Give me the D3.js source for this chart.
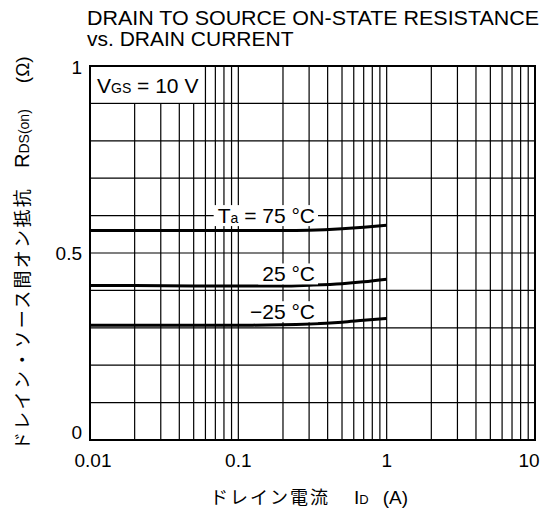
<!DOCTYPE html>
<html>
<head>
<meta charset="utf-8">
<script src="https://cdn.jsdelivr.net/npm/d3@7"></script>
<style>
  body { margin: 0; background: #fff; }
  svg { display: block; font-family: "Liberation Sans", Arial, sans-serif; }
</style>
</head>
<body>
<div id="chart"></div>
<script>
// drain current (A) and on-state resistance (ohm)
const drainCurrent = [0.01, 0.02, 0.05, 0.1, 0.2, 0.3, 0.5, 0.7, 1];
const rTa75 = [0.560, 0.560, 0.560, 0.560, 0.560, 0.561, 0.565, 0.569, 0.574];
const rTa25 = [0.413, 0.413, 0.412, 0.412, 0.412, 0.414, 0.418, 0.423, 0.430];
const rTaM25 = [0.307, 0.307, 0.307, 0.307, 0.308, 0.310, 0.315, 0.320, 0.325];

const seriesLabels = ["75", "25", "−25"];
const labelAt = [0.6, 0.444, 0.343];
const xTickValues = [0.01, 0.1, 1, 10];
const xTickLabels = ["0.01", "0.1", "1", "10"];
const yTickValues = [0, 0.5, 1];
const yTickLabels = ["0", "0.5", "1"];

const W = 549, H = 510;
const m = { left: 90, right: 14, top: 66, bottom: 70 };

const svg = d3.select("#chart").append("svg")
	.attr("width", W)
	.attr("height", H);

const x = d3.scaleLog().domain([0.01, 10]).range([m.left, W - m.right]);
const y = d3.scaleLinear().domain([0, 1]).range([H - m.bottom, m.top]);

// grid: every log minor tick and every 0.1 on y
const vLines = x.ticks().filter((d) => d > 0.01 && d < 10);
const hLines = d3.range(1, 10).map((i) => i / 10);

svg.append("g").selectAll("line").data(vLines).join("line")
	.attr("x1", (d) => x(d)).attr("x2", (d) => x(d))
	.attr("y1", y(0)).attr("y2", y(1))
	.attr("stroke", "#000").attr("stroke-width", 1.2);

svg.append("g").selectAll("line").data(hLines).join("line")
	.attr("x1", x(0.01)).attr("x2", x(10))
	.attr("y1", (d) => y(d)).attr("y2", (d) => y(d))
	.attr("stroke", "#000").attr("stroke-width", 1.2);

// condition box in the top left corner
svg.append("rect")
	.attr("x", x(0.01)).attr("y", y(1))
	.attr("width", x(0.06) - x(0.01)).attr("height", y(0.9) - y(1))
	.attr("fill", "#fff").attr("stroke", "#000").attr("stroke-width", 1.2);

const vgs = svg.append("text")
	.attr("x", x(0.01) + 7).attr("y", y(0.95) + 8)
	.attr("font-size", 21);
vgs.append("tspan").text("V");
vgs.append("tspan").attr("font-size", 14).text("GS");
vgs.append("tspan").text(" = 10 V");

// curves
const line = d3.line()
	.x((d) => x(d[0]))
	.y((d) => y(d[1]))
	.curve(d3.curveMonotoneX);

[rTa75, rTa25, rTaM25].forEach((vals) => {
	svg.append("path")
		.datum(drainCurrent.map((c, i) => [c, vals[i]]))
		.attr("d", line)
		.attr("fill", "none")
		.attr("stroke", "#000")
		.attr("stroke-width", 3);
});

// curve labels, a white box knocks out the grid behind each one
seriesLabels.forEach((t, i) => {
	const lab = svg.append("text")
		.attr("x", 315).attr("y", y(labelAt[i]) + 7.5)
		.attr("text-anchor", "end")
		.attr("font-size", 21)
		.attr("fill", "#000");
	if (i === 0) {
		lab.append("tspan").text("T");
		lab.append("tspan").attr("font-size", 14).text("a");
		lab.append("tspan").text(" = " + t + " °C");
	} else {
		lab.text(t + " °C");
	}
	const bb = lab.node().getBBox();
	svg.insert("rect", () => lab.node())
		.attr("x", bb.x - 4).attr("y", bb.y + 1)
		.attr("width", bb.width + 7).attr("height", bb.height - 2)
		.attr("fill", "#fff");
});

// frame
svg.append("rect")
	.attr("x", x(0.01)).attr("y", y(1))
	.attr("width", x(10) - x(0.01)).attr("height", y(0) - y(1))
	.attr("fill", "none").attr("stroke", "#000").attr("stroke-width", 2);

// tick labels
svg.append("g").selectAll("text").data(xTickValues).join("text")
	.attr("x", (d, i) => x(d) + (i === 0 ? 3 : i === 3 ? -6 : 0))
	.attr("y", y(0) + 27)
	.attr("text-anchor", "middle")
	.attr("font-size", 19)
	.text((d, i) => xTickLabels[i]);

svg.append("g").selectAll("text").data(yTickValues).join("text")
	.attr("x", m.left - 8)
	.attr("y", (d) => y(d) + (d === 1 ? 8 : d === 0 ? -1 : 7))
	.attr("text-anchor", "end")
	.attr("font-size", 19)
	.text((d, i) => yTickLabels[i]);

// title
svg.append("text").attr("x", 87).attr("y", 25)
	.attr("font-size", 21).attr("textLength", 452).attr("lengthAdjust", "spacingAndGlyphs")
	.text("DRAIN TO SOURCE ON-STATE RESISTANCE");
svg.append("text").attr("x", 87).attr("y", 46)
	.attr("font-size", 21)
	.text("vs. DRAIN  CURRENT");

// x axis title
const xt = svg.append("text")
	.attr("x", 210).attr("y", 504)
	.attr("font-size", 19);
xt.append("tspan").attr("font-family", "Noto Sans CJK JP").attr("font-size", 18).attr("letter-spacing", 2).text("ドレイン電流");
xt.append("tspan").attr("dx", 24).text("I");
xt.append("tspan").attr("font-size", 13).text("D");
xt.append("tspan").attr("dx", 14).text("(A)");

// y axis title
const yt = svg.append("text")
	.attr("transform", "translate(29,450) rotate(-90)")
	.attr("font-size", 19);
yt.append("tspan").attr("font-family", "Noto Sans CJK JP").attr("font-size", 18).attr("letter-spacing", 2.3).text("ドレイン・ソース間オン抵抗");
yt.append("tspan").attr("dx", 19).attr("font-size", 20).text("R");
yt.append("tspan").attr("font-size", 14).text("DS(on)");
yt.append("tspan").attr("dx", 26).text("(Ω)");
</script>
</body>
</html>
